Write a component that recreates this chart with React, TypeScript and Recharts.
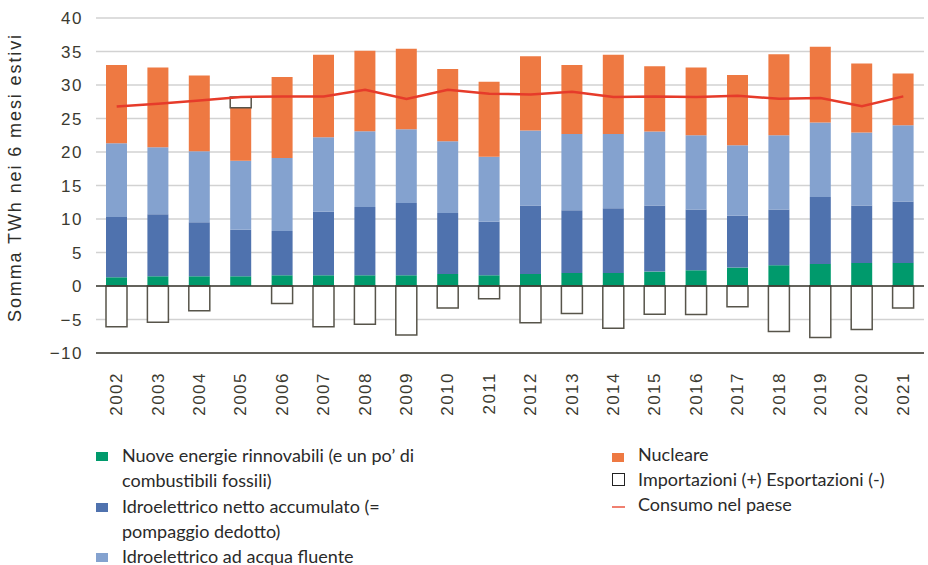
import React from "react";
import { ComposedChart, Bar, Line, XAxis, YAxis, CartesianGrid, ReferenceLine } from "recharts";

// anni (estate, 6 mesi)
const years = ["2002", "2003", "2004", "2005", "2006", "2007", "2008", "2009", "2010", "2011", "2012", "2013", "2014", "2015", "2016", "2017", "2018", "2019", "2020", "2021"];
const rinnovabili = [1.3, 1.45, 1.45, 1.45, 1.6, 1.6, 1.6, 1.6, 1.8, 1.6, 1.8, 1.95, 1.95, 2.15, 2.35, 2.75, 3.1, 3.3, 3.45, 3.45];
const accumulato = [9.0, 9.25, 8.05, 6.95, 6.6, 9.5, 10.2, 10.8, 9.1, 8.0, 10.2, 9.35, 9.65, 9.85, 9.05, 7.75, 8.3, 10.0, 8.55, 9.15];
const fluente = [11.0, 10.0, 10.6, 10.3, 10.9, 11.1, 11.3, 11.0, 10.7, 9.7, 11.2, 11.4, 11.1, 11.05, 11.1, 10.5, 11.1, 11.1, 10.9, 11.4];
const nucleare = [11.7, 11.9, 11.3, 7.9, 12.1, 12.3, 12.0, 12.0, 10.8, 11.2, 11.1, 10.3, 11.8, 9.75, 10.1, 10.5, 12.1, 11.3, 10.3, 7.7];
const importExport = [-6.1, -5.4, -3.7, 1.6, -2.6, -6.1, -5.7, -7.3, -3.3, -1.9, -5.5, -4.1, -6.3, -4.2, -4.25, -3.1, -6.8, -7.7, -6.5, -3.3];
const consumo = [26.8, 27.2, 27.7, 28.2, 28.3, 28.3, 29.3, 27.9, 29.3, 28.7, 28.6, 29.0, 28.2, 28.3, 28.2, 28.4, 27.95, 28.05, 26.85, 28.3];
const yTicks = [-10, -5, 0, 5, 10, 15, 20, 25, 30, 35, 40];

const data = years.map((y, i) => ({
  year: y,
  rinnovabili: rinnovabili[i],
  accumulato: accumulato[i],
  fluente: fluente[i],
  nucleare: nucleare[i],
  imp: importExport[i],
  consumo: consumo[i],
}));

const axisColor = "#3b3a30";

const YearTick = (props: any) => {
  const { x, y, payload } = props;
  return (
    <text
      transform={`translate(${x},${y + 11}) rotate(-90)`}
      textAnchor="end"
      dominantBaseline="central"
      fontSize={17}
      letterSpacing={1.5}
      fill={axisColor}
      fontFamily="Liberation Sans, Arial, sans-serif"
    >
      {payload.value}
    </text>
  );
};

const leftLegend = [
  { color: "#009a6c", lines: ["Nuove energie rinnovabili (e un po’ di", "combustibili fossili)"] },
  { color: "#4f72ae", lines: ["Idroelettrico netto accumulato (=", "pompaggio dedotto)"] },
  { color: "#84a2cf", lines: ["Idroelettrico ad acqua fluente"] },
];

export default function App() {
  return (
    <div style={{ position: "absolute", left: 0, top: 0, width: 928, height: 565, background: "#fff", overflow: "hidden" }}>
      <ComposedChart width={928} height={440} data={data} stackOffset="sign" margin={{ top: 18, right: 4, bottom: 0, left: 0 }}>
        <CartesianGrid vertical={false} stroke="#d2d2d2" strokeWidth={1.5} />
        <XAxis
          dataKey="year"
          height={87}
          interval={0}
          tickLine={false}
          axisLine={{ stroke: axisColor, strokeWidth: 1.5 }}
          tick={<YearTick />}
        />
        <YAxis
          width={96}
          domain={[-10, 40]}
          ticks={yTicks}
          interval={0}
          axisLine={false}
          tickLine={false}
          tickMargin={7}
          tickFormatter={(v: number) => String(v).replace("-", "−")}
          tick={{ fontSize: 17, fill: axisColor, letterSpacing: 1.5, fontFamily: "Liberation Sans, Arial, sans-serif" }}
          label={{
            value: "Somma TWh nei 6 mesi estivi",
            angle: -90,
            position: "insideLeft",
            dx: 10,
            dy: -8,
            style: { fontSize: 18, letterSpacing: 1.9, fill: "#2e2e2a", textAnchor: "middle", fontFamily: "Liberation Sans, Arial, sans-serif" },
          }}
        />
        <Bar dataKey="rinnovabili" stackId="a" fill="#009a6c" barSize={21} isAnimationActive={false} />
        <Bar dataKey="accumulato" stackId="a" fill="#4f72ae" barSize={21} isAnimationActive={false} />
        <Bar dataKey="fluente" stackId="a" fill="#84a2cf" barSize={21} isAnimationActive={false} />
        <Bar dataKey="nucleare" stackId="a" fill="#ee7942" barSize={21} isAnimationActive={false} />
        <Bar dataKey="imp" stackId="a" fill="#ffffff" stroke="#57544a" strokeWidth={1.5} barSize={21} isAnimationActive={false} />
        <ReferenceLine y={0} stroke={axisColor} strokeWidth={1.5} />
        <Line dataKey="consumo" stroke="#e63b2a" strokeWidth={2.5} dot={false} isAnimationActive={false} />
      </ComposedChart>

      <div style={{ position: "absolute", left: 122, top: 443, fontFamily: "Lato, 'Open Sans', sans-serif", fontSize: 18, lineHeight: "25.3px", color: "#2a2a2a" }}>
        {leftLegend.map((it) => (
          <div key={it.color} style={{ position: "relative" }}>
            <span style={{ position: "absolute", left: -26, top: 9, width: 12, height: 9, background: it.color }} />
            {it.lines.map((l) => (
              <div key={l} style={{ whiteSpace: "nowrap" }}>{l}</div>
            ))}
          </div>
        ))}
      </div>

      <div style={{ position: "absolute", left: 638, top: 442, fontFamily: "Lato, 'Open Sans', sans-serif", fontSize: 18, lineHeight: "25px", color: "#2a2a2a" }}>
        <div style={{ position: "relative", whiteSpace: "nowrap" }}>
          <span style={{ position: "absolute", left: -26, top: 11, width: 12, height: 9, background: "#ee7942" }} />
          Nucleare
        </div>
        <div style={{ position: "relative", whiteSpace: "nowrap" }}>
          <span style={{ position: "absolute", left: -26, top: 6, width: 11, height: 11, border: "1.5px solid #222", background: "#fff" }} />
          Importazioni (+) Esportazioni (-)
        </div>
        <div style={{ position: "relative", whiteSpace: "nowrap" }}>
          <span style={{ position: "absolute", left: -26, top: 14, width: 13, height: 2, background: "#f08070" }} />
          Consumo nel paese
        </div>
      </div>
    </div>
  );
}
